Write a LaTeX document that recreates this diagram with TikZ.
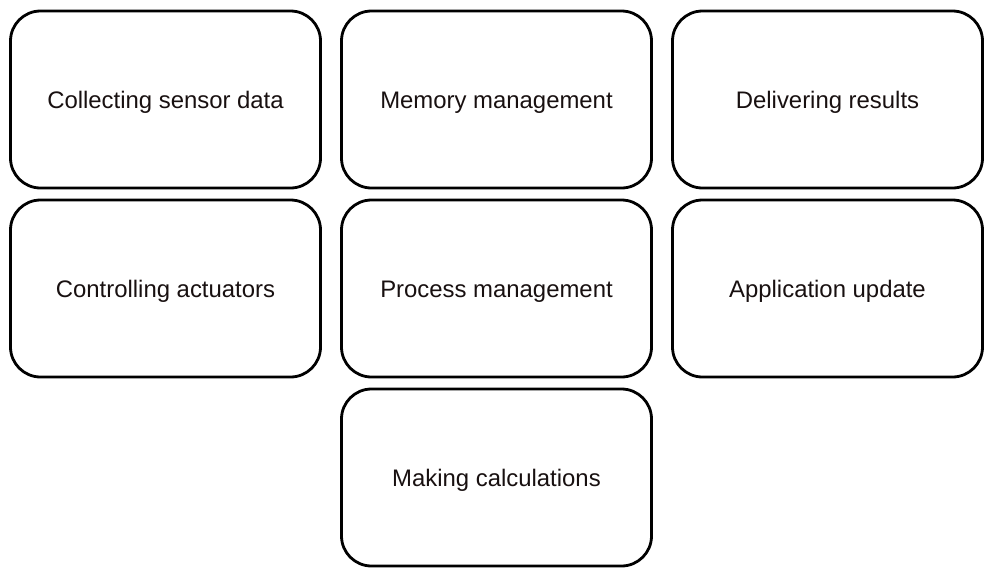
\documentclass[tikz,border=0pt]{standalone}
\usepackage{fontspec}
\setmainfont{Liberation Sans}
\definecolor{txt}{RGB}{24,16,16}
\begin{document}
\begin{tikzpicture}[x=1pt,y=-1pt,
  box/.style={draw=black, line width=2.8pt, rounded corners=30pt, minimum width=310pt, minimum height=177pt, inner sep=0pt, text height=17pt, text depth=0pt, text=txt, font=\fontsize{23.9}{28}\selectfont, anchor=center}]
\useasboundingbox (0,0) rectangle (1002,582);
\node[box] (csd) at (165.5,99.5) {Collecting sensor data};
\node[box] (mm)  at (496.5,99.5) {Memory management};
\node[box] (dr)  at (827.5,99.5) {Delivering results};
\node[box] (ca)  at (165.5,288.5) {Controlling actuators};
\node[box] (pm)  at (496.5,288.5) {Process management};
\node[box] (au)  at (827.5,288.5) {Application update};
\node[box] (mc)  at (496.5,477.5) {Making calculations};
\end{tikzpicture}
\end{document}
